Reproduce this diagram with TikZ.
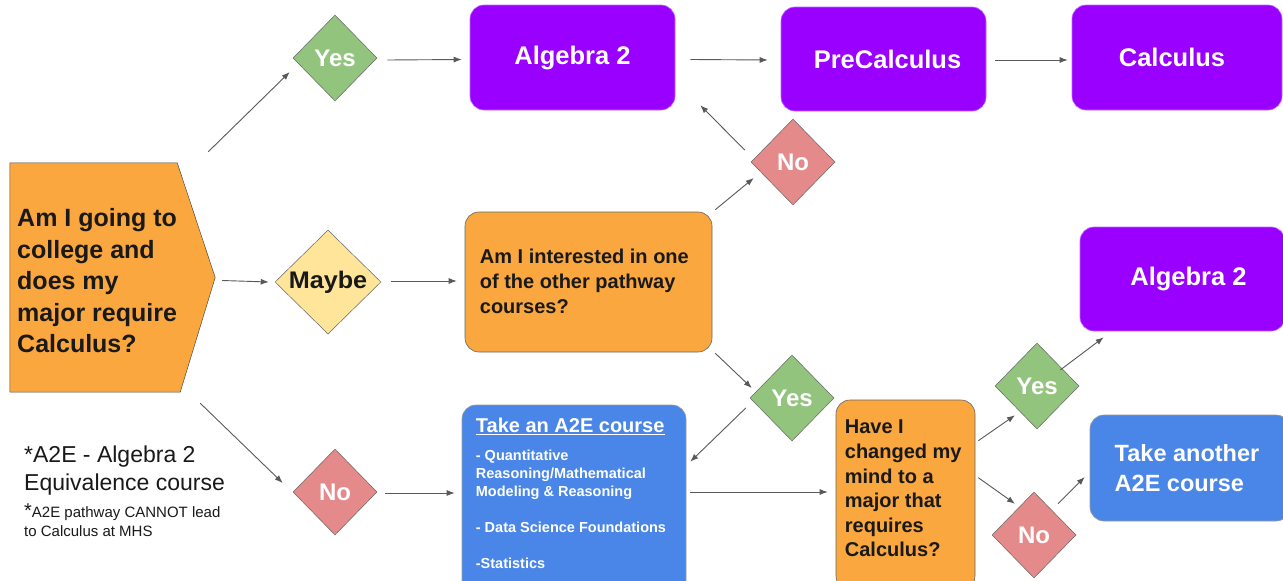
\documentclass[tikz,border=0pt]{standalone}
\usepackage{fontspec}
\usepackage{graphicx}
\setmainfont{Liberation Sans}
\usetikzlibrary{shapes.geometric,arrows.meta,calc}
\definecolor{orng}{HTML}{F9A73E}
\definecolor{purp}{HTML}{9900FF}
\definecolor{blu}{HTML}{4A86E8}
\definecolor{grn}{HTML}{93C47D}
\definecolor{pnk}{HTML}{E58A8A}
\definecolor{ylw}{HTML}{FFE599}
\definecolor{arrc}{HTML}{595959}
\tikzset{
  arr/.style={draw=arrc, line width=0.9pt, -{Latex[length=8pt,width=6pt]}},
  dia/.style={shape=diamond, minimum width=84pt, minimum height=86pt, inner sep=0pt, draw=gray!80!black, line width=0.5pt, text=white, font=\bfseries\fontsize{24}{26}\selectfont},
  box/.style={rectangle, rounded corners=14pt, draw=gray!70, line width=0.6pt},
  pbox/.style={box, fill=purp, draw=purp!60, text=white, font=\bfseries\fontsize{25.5}{28}\selectfont},
  obox/.style={box, fill=orng, draw=gray!80!black},
  bbox/.style={box, fill=blu, draw=gray!80},
  qtext/.style={align=left, anchor=west, inner sep=0pt, text=black!90},
  notetext/.style={anchor=west, inner sep=0pt, text=black!90}
}
\begin{document}
\begin{tikzpicture}[x=1pt,y=-1pt]
\useasboundingbox (0,0) rectangle (1283,581);
\fill[white] (0,0) rectangle (1283,581);
% left pentagon
\node[minimum width=205pt, minimum height=229pt, inner sep=0pt] (pent) at (112.5,277.5) {};
\filldraw[fill=orng, draw=gray!60!black, line width=0.5pt] (pent.north west) -- ($(pent.north east)+(-38,0)$) -- (pent.east) -- ($(pent.south east)+(-35,0)$) -- (pent.south west) -- cycle;
\node[qtext, font=\bfseries\fontsize{25}{31.5}\selectfont] (qt) at (17,281) {Am I going to\\college and\\does my\\major require\\Calculus?};
% diamonds
\node[dia, fill=grn] (yes1) at (335,58) {Yes};
\node[dia, fill=pnk] (noT) at (793,162) {No};
\node[dia, fill=ylw, minimum width=106pt, minimum height=104pt, text=black!90] (maybe) at (328,282) {\scalebox{1.05}[1]{Maybe}};
\node[dia, fill=grn] (yes2) at (792,398) {Yes};
\node[dia, fill=pnk] (noL) at (335,492) {No};
\node[dia, fill=grn] (yes3) at (1037,386) {Yes};
\node[dia, fill=pnk] (noR) at (1034,535) {No};
% purple boxes
\node[pbox, minimum width=205pt, minimum height=105pt] (alg1) at (572.5,57.5) {Algebra 2};
\node[pbox, minimum width=205pt, minimum height=104pt] (pre) at (883.5,59) {\hspace{8pt}PreCalculus};
\node[pbox, minimum width=210pt, minimum height=105pt] (calc) at (1177,57.5) {\hspace{-10pt}Calculus};
\node[pbox, minimum width=205pt, minimum height=104pt] (alg3) at (1182.5,279) {\hspace{12pt}\raisebox{6pt}{Algebra 2}};
% orange question boxes
\node[obox, minimum width=247pt, minimum height=140pt] (int) at (588.5,282) {};
\node[qtext, font=\bfseries\fontsize{20}{25}\selectfont] (intt) at ($(int.west)+(15,-1)$) {Am I interested in one\\of the other pathway\\courses?};
\node[obox, minimum width=139pt, minimum height=190pt] (have) at (905.5,495) {};
\node[qtext, font=\bfseries\fontsize{20}{24.6}\selectfont] (havet) at ($(have.north west)+(9,89)$) {Have I\\changed my\\mind to a\\major that\\requires\\Calculus?};
% blue boxes
\node[bbox, minimum width=224pt, minimum height=190pt] (a2e) at (574,500) {};
\node[anchor=west, inner sep=0pt, text=white, font=\bfseries\fontsize{20}{22}\selectfont] (a2et) at ($(a2e.north west)+(14,22)$) {\underline{Take an A2E course}};
\node[anchor=north west, align=left, inner sep=0pt, text=white, font=\bfseries\fontsize{14.5}{18}\selectfont] (a2ei) at ($(a2e.north west)+(14,45)$) {- Quantitative\\Reasoning/Mathematical\\Modeling \& Reasoning\\[18pt]- Data Science Foundations\\[18pt]-Statistics};
\node[bbox, minimum width=200pt, minimum height=106pt, text=white, align=left, font=\bfseries\fontsize{23.5}{30}\selectfont] (another) at (1190,468) {\hspace{-6pt}Take another\\\hspace{-6pt}A2E course};
% note
\node[notetext, font=\fontsize{23}{26}\selectfont] (note1) at (24,457) {*A2E - Algebra 2};
\node[notetext, font=\fontsize{23}{26}\selectfont] (note2) at (24,485) {Equivalence course};
\node[notetext, font=\fontsize{15}{18}\selectfont] (note3) at (24,512) {{\fontsize{20}{18}\selectfont *}A2E pathway CANNOT lead};
\node[notetext, font=\fontsize{15}{18}\selectfont] (note4) at (24,531) {to Calculus at MHS};
% arrows
\draw[arr] ($(pent.north east)+(-7,-11)$) -- ($(yes1.west)+(-3,14)$);
\draw[arr] ($(pent.east)+(7,3)$) -- ($(maybe.west)+(-6,0)$);
\draw[arr] ($(pent.south east)+(-15,11)$) -- ($(noL.west)+(-10,-9)$);
\draw[arr] ($(yes1.east)+(10,2)$) -- ($(alg1.west)+(-8,2)$);
\draw[arr] ($(alg1.east)+(15,2)$) -- ($(pre.west)+(-13,1)$);
\draw[arr] ($(pre.east)+(9,1)$) -- ($(calc.west)+(-4,2.5)$);
\draw[arr] ($(maybe.east)+(10,-1)$) -- ($(int.west)+(-8,-1)$);
\draw[arr] ($(int.north east)+(3,-2)$) -- ($(noT.west)+(3,16)$);
\draw[arr] ($(noT.west)+(-6,-12)$) -- ($(alg1.south east)+(25,-5)$);
\draw[arr] ($(int.south east)+(3,1)$) -- ($(yes2.west)+(2,-10)$);
\draw[arr] ($(yes2.west)+(-4,10)$) -- ($(a2e.north east)+(4,57)$);
\draw[arr] ($(noL.east)+(8,1)$) -- ($(a2e.west |- noL.east)+(-7,1)$);
\draw[arr] ($(a2e.east |- noL.east)+(4,0)$) -- ($(have.west |- noL.east)+(-8,0)$);
\draw[arr] ($(have.north east)+(3,41)$) -- ($(yes3.south)+(-22,-14)$);
\draw[arr] ($(yes3.east)+(-19,-16)$) -- ($(alg3.south west)+(24,6)$);
\draw[arr] ($(have.north east)+(3,78)$) -- ($(noR.north)+(-19,12)$);
\draw[arr] ($(noR.north)+(24,12)$) -- ($(another.west)+(-5,9)$);
\end{tikzpicture}
\end{document}
